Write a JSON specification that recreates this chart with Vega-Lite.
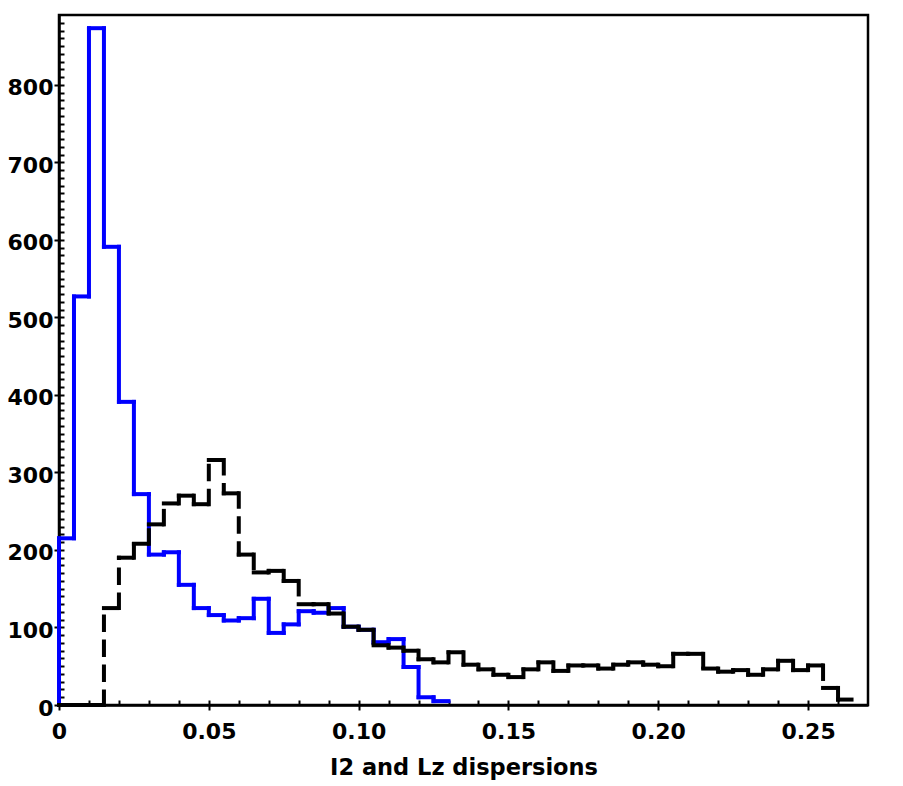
{
  "$schema": "https://vega.github.io/schema/vega-lite/v6.json",
  "width": 809,
  "height": 690,
  "autosize": {"type": "none"},
  "padding": {"left": 59, "top": 15, "right": 35, "bottom": 81},
  "background": "white",
  "config": {
    "view": {"stroke": "black", "strokeWidth": 2.5},
    "axis": {
      "grid": false,
      "labelFont": "DejaVu Sans",
      "labelFontWeight": "bold",
      "labelFontSize": 22,
      "labelColor": "black",
      "tickColor": "black",
      "tickWidth": 2,
      "domainColor": "black",
      "domainWidth": 2.5,
      "titleFont": "DejaVu Sans",
      "titleFontWeight": "bold",
      "titleFontSize": 22.5,
      "titleColor": "black"
    }
  },
  "data": {
    "values": [
      {"s": "blue", "x0": 0.000, "x1": 0.005, "n": 215},
      {"s": "blue", "x0": 0.005, "x1": 0.010, "n": 527},
      {"s": "blue", "x0": 0.010, "x1": 0.015, "n": 873},
      {"s": "blue", "x0": 0.015, "x1": 0.020, "n": 591},
      {"s": "blue", "x0": 0.020, "x1": 0.025, "n": 391},
      {"s": "blue", "x0": 0.025, "x1": 0.030, "n": 272},
      {"s": "blue", "x0": 0.030, "x1": 0.035, "n": 194},
      {"s": "blue", "x0": 0.035, "x1": 0.040, "n": 197},
      {"s": "blue", "x0": 0.040, "x1": 0.045, "n": 155},
      {"s": "blue", "x0": 0.045, "x1": 0.050, "n": 125},
      {"s": "blue", "x0": 0.050, "x1": 0.055, "n": 116},
      {"s": "blue", "x0": 0.055, "x1": 0.060, "n": 109},
      {"s": "blue", "x0": 0.060, "x1": 0.065, "n": 112},
      {"s": "blue", "x0": 0.065, "x1": 0.070, "n": 137},
      {"s": "blue", "x0": 0.070, "x1": 0.075, "n": 93},
      {"s": "blue", "x0": 0.075, "x1": 0.080, "n": 104},
      {"s": "blue", "x0": 0.080, "x1": 0.085, "n": 121},
      {"s": "blue", "x0": 0.085, "x1": 0.090, "n": 119},
      {"s": "blue", "x0": 0.090, "x1": 0.095, "n": 125},
      {"s": "blue", "x0": 0.095, "x1": 0.100, "n": 101},
      {"s": "blue", "x0": 0.100, "x1": 0.105, "n": 97},
      {"s": "blue", "x0": 0.105, "x1": 0.110, "n": 81},
      {"s": "blue", "x0": 0.110, "x1": 0.115, "n": 85},
      {"s": "blue", "x0": 0.115, "x1": 0.120, "n": 49},
      {"s": "blue", "x0": 0.120, "x1": 0.125, "n": 10},
      {"s": "blue", "x0": 0.125, "x1": 0.130, "n": 5},
      {"s": "black", "x0": 0.000, "x1": 0.005, "n": 0},
      {"s": "black", "x0": 0.005, "x1": 0.010, "n": 0},
      {"s": "black", "x0": 0.010, "x1": 0.015, "n": 0},
      {"s": "black", "x0": 0.015, "x1": 0.020, "n": 125},
      {"s": "black", "x0": 0.020, "x1": 0.025, "n": 190},
      {"s": "black", "x0": 0.025, "x1": 0.030, "n": 208},
      {"s": "black", "x0": 0.030, "x1": 0.035, "n": 233},
      {"s": "black", "x0": 0.035, "x1": 0.040, "n": 260},
      {"s": "black", "x0": 0.040, "x1": 0.045, "n": 270},
      {"s": "black", "x0": 0.045, "x1": 0.050, "n": 259},
      {"s": "black", "x0": 0.050, "x1": 0.055, "n": 316},
      {"s": "black", "x0": 0.055, "x1": 0.060, "n": 273},
      {"s": "black", "x0": 0.060, "x1": 0.065, "n": 194},
      {"s": "black", "x0": 0.065, "x1": 0.070, "n": 171},
      {"s": "black", "x0": 0.070, "x1": 0.075, "n": 173},
      {"s": "black", "x0": 0.075, "x1": 0.080, "n": 160},
      {"s": "black", "x0": 0.080, "x1": 0.085, "n": 130},
      {"s": "black", "x0": 0.085, "x1": 0.090, "n": 130},
      {"s": "black", "x0": 0.090, "x1": 0.095, "n": 118},
      {"s": "black", "x0": 0.095, "x1": 0.100, "n": 101},
      {"s": "black", "x0": 0.100, "x1": 0.105, "n": 97},
      {"s": "black", "x0": 0.105, "x1": 0.110, "n": 77},
      {"s": "black", "x0": 0.110, "x1": 0.115, "n": 74},
      {"s": "black", "x0": 0.115, "x1": 0.120, "n": 70},
      {"s": "black", "x0": 0.120, "x1": 0.125, "n": 59},
      {"s": "black", "x0": 0.125, "x1": 0.130, "n": 55},
      {"s": "black", "x0": 0.130, "x1": 0.135, "n": 68},
      {"s": "black", "x0": 0.135, "x1": 0.140, "n": 52},
      {"s": "black", "x0": 0.140, "x1": 0.145, "n": 46},
      {"s": "black", "x0": 0.145, "x1": 0.150, "n": 39},
      {"s": "black", "x0": 0.150, "x1": 0.155, "n": 36},
      {"s": "black", "x0": 0.155, "x1": 0.160, "n": 46},
      {"s": "black", "x0": 0.160, "x1": 0.165, "n": 55},
      {"s": "black", "x0": 0.165, "x1": 0.170, "n": 44},
      {"s": "black", "x0": 0.170, "x1": 0.175, "n": 51},
      {"s": "black", "x0": 0.175, "x1": 0.180, "n": 51},
      {"s": "black", "x0": 0.180, "x1": 0.185, "n": 47},
      {"s": "black", "x0": 0.185, "x1": 0.190, "n": 52},
      {"s": "black", "x0": 0.190, "x1": 0.195, "n": 55},
      {"s": "black", "x0": 0.195, "x1": 0.200, "n": 52},
      {"s": "black", "x0": 0.200, "x1": 0.205, "n": 50},
      {"s": "black", "x0": 0.205, "x1": 0.210, "n": 66},
      {"s": "black", "x0": 0.210, "x1": 0.215, "n": 66},
      {"s": "black", "x0": 0.215, "x1": 0.220, "n": 47},
      {"s": "black", "x0": 0.220, "x1": 0.225, "n": 43},
      {"s": "black", "x0": 0.225, "x1": 0.230, "n": 45},
      {"s": "black", "x0": 0.230, "x1": 0.235, "n": 39},
      {"s": "black", "x0": 0.235, "x1": 0.240, "n": 46},
      {"s": "black", "x0": 0.240, "x1": 0.245, "n": 57},
      {"s": "black", "x0": 0.245, "x1": 0.250, "n": 45},
      {"s": "black", "x0": 0.250, "x1": 0.255, "n": 51},
      {"s": "black", "x0": 0.255, "x1": 0.260, "n": 22},
      {"s": "black", "x0": 0.260, "x1": 0.265, "n": 7}
    ]
  },
  "transform": [
    {"window": [{"op": "lag", "field": "n", "as": "prev"}], "groupby": ["s"], "sort": [{"field": "x0", "order": "ascending"}]},
    {"calculate": "datum.prev == null ? 0 : datum.prev", "as": "p"}
  ],
  "resolve": {"axis": {"x": "independent", "y": "independent"}},
  "layer": [
    {
      "transform": [{"filter": "datum.s === 'blue'"}],
      "mark": {"type": "rule", "color": "#0000ff", "strokeWidth": 4, "strokeCap": "square"},
      "encoding": {
        "x": {
          "field": "x0", "type": "quantitative",
          "scale": {"domain": [0, 0.27], "nice": false, "zero": false},
          "axis": {
            "orient": "bottom",
            "values": [0, 0.05, 0.1, 0.15, 0.2, 0.25],
            "labelExpr": "datum.value === 0 ? '0' : format(datum.value, '.2f')",
            "tickSize": 5,
            "labelPadding": 11,
            "labelFlush": false,
            "labelOverlap": false,
            "title": "I2 and Lz dispersions",
            "titlePadding": 14
          }
        },
        "x2": {"field": "x1"},
        "y": {
          "field": "n", "type": "quantitative",
          "scale": {"domain": [0, 890], "nice": false},
          "axis": {
            "orient": "left",
            "values": [0, 100, 200, 300, 400, 500, 600, 700, 800],
            "tickSize": 5,
            "labelPadding": 1,
            "labelOffset": 3,
            "labelFlush": false,
            "labelOverlap": false,
            "title": null
          }
        }
      }
    },
    {
      "transform": [{"filter": "datum.s === 'blue'"}],
      "mark": {"type": "rule", "color": "#0000ff", "strokeWidth": 4, "strokeCap": "square"},
      "encoding": {
        "x": {
          "field": "x0", "type": "quantitative",
          "axis": {
            "orient": "bottom",
            "values": [0, 0.01, 0.02, 0.03, 0.04, 0.05, 0.06, 0.07, 0.08, 0.09, 0.1, 0.11, 0.12, 0.13, 0.14, 0.15, 0.16, 0.17, 0.18, 0.19, 0.2, 0.21, 0.22, 0.23, 0.24, 0.25, 0.26],
            "tickSize": -5, "labels": false, "domain": false, "title": null
          }
        },
        "y": {
          "field": "p", "type": "quantitative",
          "axis": {
            "orient": "left",
            "values": [0, 10, 20, 30, 40, 50, 60, 70, 80, 90, 100, 110, 120, 130, 140, 150, 160, 170, 180, 190, 200, 210, 220, 230, 240, 250, 260, 270, 280, 290, 300, 310, 320, 330, 340, 350, 360, 370, 380, 390, 400, 410, 420, 430, 440, 450, 460, 470, 480, 490, 500, 510, 520, 530, 540, 550, 560, 570, 580, 590, 600, 610, 620, 630, 640, 650, 660, 670, 680, 690, 700, 710, 720, 730, 740, 750, 760, 770, 780, 790, 800, 810, 820, 830, 840, 850, 860, 870, 880],
            "tickSize": -5, "labels": false, "domain": false, "title": null
          }
        },
        "y2": {"field": "n"}
      }
    },
    {
      "transform": [{"filter": "datum.s === 'black'"}],
      "mark": {"type": "rule", "color": "black", "strokeWidth": 4, "strokeCap": "square", "strokeDash": [13.5, 11.5]},
      "encoding": {
        "x": {"field": "x0", "type": "quantitative", "axis": null},
        "x2": {"field": "x1"},
        "y": {"field": "n", "type": "quantitative", "axis": null}
      }
    },
    {
      "transform": [{"filter": "datum.s === 'black'"}],
      "mark": {"type": "rule", "color": "black", "strokeWidth": 4, "strokeCap": "square", "strokeDash": [13.5, 11.5]},
      "encoding": {
        "x": {"field": "x0", "type": "quantitative", "axis": null},
        "y": {"field": "p", "type": "quantitative", "axis": null},
        "y2": {"field": "n"}
      }
    }
  ]
}
